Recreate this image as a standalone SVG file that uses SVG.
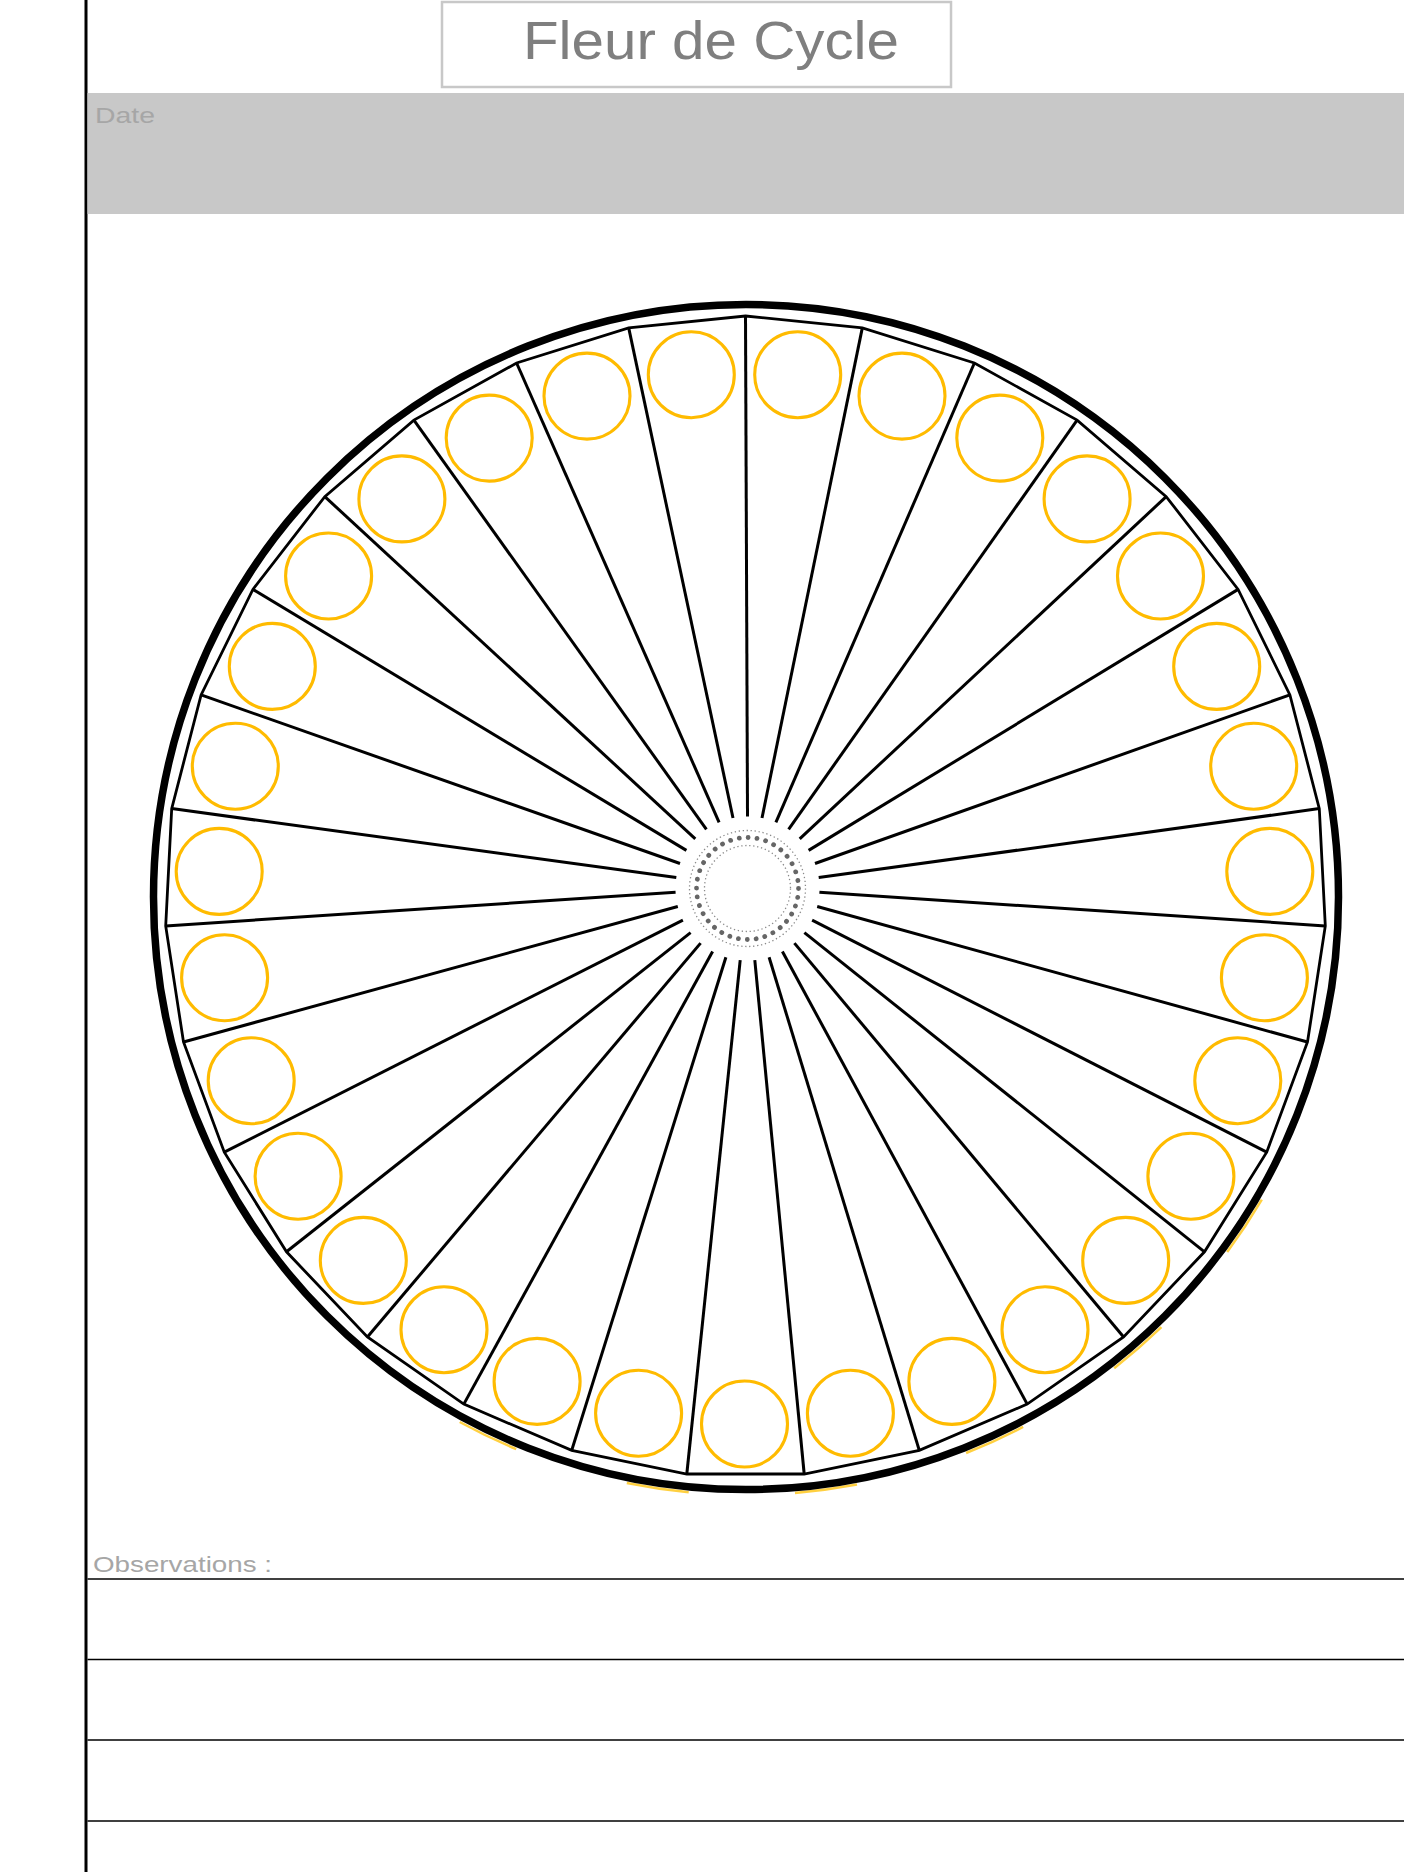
<svg xmlns="http://www.w3.org/2000/svg" width="1404" height="1872" viewBox="0 0 1404 1872">
<style>
.txt{font-family:"Liberation Sans","DejaVu Sans",sans-serif}
.spk{stroke:#000;stroke-width:3;stroke-linecap:butt;fill:none}
.yc{fill:none;stroke:#ffbb00;stroke-width:3.1}
.rule{stroke:#000;stroke-width:1.5}
.sliver{fill:none;stroke:#ffc000;stroke-width:2.5;opacity:0.75}
</style>
<rect width="1404" height="1872" fill="#fff"/>
<g id="page">
<line x1="86" y1="0" x2="86" y2="1872" stroke="#000" stroke-width="3"/>
<rect x="87.5" y="93" width="1316.5" height="121" fill="#c8c8c8"/>
</g>
<g id="title">
<rect x="442" y="2" width="509" height="85" fill="#fff" stroke="#c8c8c8" stroke-width="2.5"/>
<text class="txt" x="523" y="59" font-size="54" fill="#7f7f7f" textLength="376" lengthAdjust="spacingAndGlyphs">Fleur de Cycle</text>
</g>
<g id="date">
<text class="txt" x="95" y="123" font-size="22" fill="#a6a6a6" textLength="60" lengthAdjust="spacingAndGlyphs">Date</text>
</g>
<g id="wheel">
<g id="slivers">
<path class="sliver" d="M1261.8 1199.6 A598 598 0 0 1 1227.2 1252.0"/>
<path class="sliver" d="M1161.4 1327.2 A598 598 0 0 1 1114.2 1368.2"/>
<path class="sliver" d="M1023.1 1426.9 A598 598 0 0 1 966.1 1453.0"/>
<path class="sliver" d="M857.0 1484.6 A598 598 0 0 1 795.0 1493.0"/>
<path class="sliver" d="M688.7 1492.2 A598 598 0 0 1 626.8 1483.0"/>
<path class="sliver" d="M516.2 1449.1 A598 598 0 0 1 459.7 1422.0"/>
</g>
<circle id="outer-ring" cx="746" cy="897" r="592.5" fill="none" stroke="#000" stroke-width="7.5"/>
<polygon id="inner-ring" fill="none" stroke="#000" stroke-width="2.8" stroke-linejoin="miter" points="745.5,316.0 862.3,327.9 974.4,363.0 1077.1,420.1 1166.2,496.6 1238.1,589.4 1289.9,694.9 1319.3,808.6 1325.3,925.9 1307.5,1042.0 1266.7,1152.2 1204.5,1251.8 1123.6,1337.0 1027.2,1404.1 919.3,1450.4 804.2,1474.0 686.8,1474.0 571.7,1450.4 463.8,1404.1 367.4,1337.0 286.5,1251.8 224.3,1152.2 183.5,1042.0 165.7,925.9 171.7,808.6 201.1,694.9 252.9,589.4 324.8,496.6 413.9,420.1 516.6,363.0 628.7,327.9"/>
<g id="spokes">
<line class="spk" x1="747.5" y1="816.5" x2="745.5" y2="316.0"/>
<line class="spk" x1="762.0" y1="818.0" x2="862.3" y2="327.9"/>
<line class="spk" x1="775.9" y1="822.3" x2="974.4" y2="363.0"/>
<line class="spk" x1="788.6" y1="829.4" x2="1077.1" y2="420.1"/>
<line class="spk" x1="799.7" y1="838.9" x2="1166.2" y2="496.6"/>
<line class="spk" x1="808.6" y1="850.4" x2="1238.1" y2="589.4"/>
<line class="spk" x1="815.0" y1="863.5" x2="1289.9" y2="694.9"/>
<line class="spk" x1="818.7" y1="877.6" x2="1319.3" y2="808.6"/>
<line class="spk" x1="819.4" y1="892.2" x2="1325.3" y2="925.9"/>
<line class="spk" x1="817.2" y1="906.5" x2="1307.5" y2="1042.0"/>
<line class="spk" x1="812.1" y1="920.2" x2="1266.7" y2="1152.2"/>
<line class="spk" x1="804.4" y1="932.6" x2="1204.5" y2="1251.8"/>
<line class="spk" x1="794.4" y1="943.1" x2="1123.6" y2="1337.0"/>
<line class="spk" x1="782.4" y1="951.5" x2="1027.2" y2="1404.1"/>
<line class="spk" x1="769.1" y1="957.2" x2="919.3" y2="1450.4"/>
<line class="spk" x1="754.8" y1="960.1" x2="804.2" y2="1474.0"/>
<line class="spk" x1="740.2" y1="960.1" x2="686.8" y2="1474.0"/>
<line class="spk" x1="725.9" y1="957.2" x2="571.7" y2="1450.4"/>
<line class="spk" x1="712.6" y1="951.5" x2="463.8" y2="1404.1"/>
<line class="spk" x1="700.6" y1="943.1" x2="367.4" y2="1337.0"/>
<line class="spk" x1="690.6" y1="932.6" x2="286.5" y2="1251.8"/>
<line class="spk" x1="682.9" y1="920.2" x2="224.3" y2="1152.2"/>
<line class="spk" x1="677.8" y1="906.5" x2="183.5" y2="1042.0"/>
<line class="spk" x1="675.6" y1="892.2" x2="165.7" y2="925.9"/>
<line class="spk" x1="676.3" y1="877.6" x2="171.7" y2="808.6"/>
<line class="spk" x1="680.0" y1="863.5" x2="201.1" y2="694.9"/>
<line class="spk" x1="686.4" y1="850.4" x2="252.9" y2="589.4"/>
<line class="spk" x1="695.3" y1="838.9" x2="324.8" y2="496.6"/>
<line class="spk" x1="706.4" y1="829.4" x2="413.9" y2="420.1"/>
<line class="spk" x1="719.1" y1="822.3" x2="516.6" y2="363.0"/>
<line class="spk" x1="733.0" y1="818.0" x2="628.7" y2="327.9"/>
</g>
<g id="petals">
<circle class="yc" cx="797.7" cy="374.7" r="43"/>
<circle class="yc" cx="902.0" cy="396.1" r="43"/>
<circle class="yc" cx="999.8" cy="438.1" r="43"/>
<circle class="yc" cx="1087.1" cy="498.9" r="43"/>
<circle class="yc" cx="1160.5" cy="576.0" r="43"/>
<circle class="yc" cx="1216.7" cy="666.4" r="43"/>
<circle class="yc" cx="1253.7" cy="766.2" r="43"/>
<circle class="yc" cx="1269.8" cy="871.4" r="43"/>
<circle class="yc" cx="1264.4" cy="977.7" r="43"/>
<circle class="yc" cx="1237.8" cy="1080.7" r="43"/>
<circle class="yc" cx="1190.9" cy="1176.2" r="43"/>
<circle class="yc" cx="1125.7" cy="1260.4" r="43"/>
<circle class="yc" cx="1045.0" cy="1329.7" r="43"/>
<circle class="yc" cx="951.9" cy="1381.4" r="43"/>
<circle class="yc" cx="850.4" cy="1413.2" r="43"/>
<circle class="yc" cx="744.5" cy="1424.0" r="43"/>
<circle class="yc" cx="638.6" cy="1413.2" r="43"/>
<circle class="yc" cx="537.1" cy="1381.4" r="43"/>
<circle class="yc" cx="444.0" cy="1329.7" r="43"/>
<circle class="yc" cx="363.3" cy="1260.4" r="43"/>
<circle class="yc" cx="298.1" cy="1176.2" r="43"/>
<circle class="yc" cx="251.2" cy="1080.7" r="43"/>
<circle class="yc" cx="224.6" cy="977.7" r="43"/>
<circle class="yc" cx="219.2" cy="871.4" r="43"/>
<circle class="yc" cx="235.3" cy="766.2" r="43"/>
<circle class="yc" cx="272.3" cy="666.4" r="43"/>
<circle class="yc" cx="328.6" cy="576.0" r="43"/>
<circle class="yc" cx="401.9" cy="498.9" r="43"/>
<circle class="yc" cx="489.2" cy="438.1" r="43"/>
<circle class="yc" cx="587.0" cy="396.1" r="43"/>
<circle class="yc" cx="691.3" cy="374.7" r="43"/>
</g>
<g id="hub">
<circle cx="747.5" cy="888.5" r="58" fill="none" stroke="#8a8a8a" stroke-width="1.3" stroke-dasharray="1.3 2.7"/>
<circle cx="747.5" cy="888.5" r="51" fill="none" stroke="#666" stroke-width="4.8" stroke-linecap="round" stroke-dasharray="0.01 8.9"/>
<circle cx="747.5" cy="888.5" r="43" fill="none" stroke="#8a8a8a" stroke-width="1.3" stroke-dasharray="1.3 2.7"/>
</g>
</g>
<g id="observations">
<text class="txt" x="93" y="1572" font-size="22" fill="#a6a6a6" textLength="179" lengthAdjust="spacingAndGlyphs">Observations :</text>
<line class="rule" x1="87.5" y1="1579" x2="1404" y2="1579"/>
<line class="rule" x1="87.5" y1="1659.5" x2="1404" y2="1659.5"/>
<line class="rule" x1="87.5" y1="1740" x2="1404" y2="1740"/>
<line class="rule" x1="87.5" y1="1821" x2="1404" y2="1821"/>
</g>
</svg>
